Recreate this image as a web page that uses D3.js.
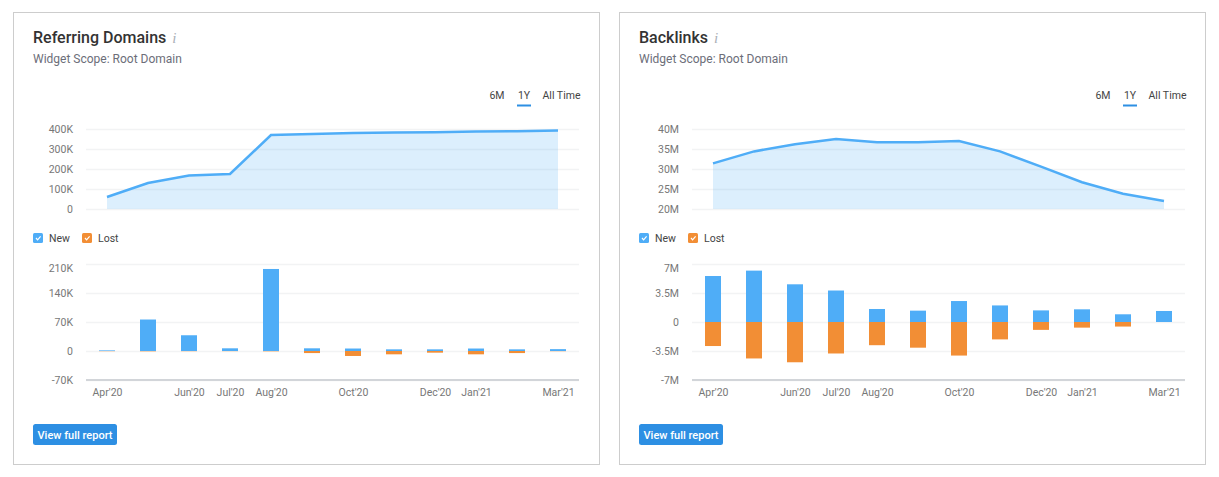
<!DOCTYPE html>
<html>
<head>
<meta charset="utf-8">
<script src="https://cdn.jsdelivr.net/npm/d3@7"></script>
<style>
  html, body { margin: 0; padding: 0; background: #fff; }
  svg { display: block; }
  text { font-family: Roboto, sans-serif; }
  .domain { display: none; }
</style>
</head>
<body>
<div id="chart"></div>
<script>
const months = ["Apr'20", "May'20", "Jun'20", "Jul'20", "Aug'20", "Sep'20", "Oct'20", "Nov'20", "Dec'20", "Jan'21", "Feb'21", "Mar'21"];
const shownMonths = ["Apr'20", "Jun'20", "Jul'20", "Aug'20", "Oct'20", "Dec'20", "Jan'21", "Mar'21"];
const rangeLabels = ["6M", "1Y", "All Time"];

// Referring Domains
const domainsTotal = [60000, 130000, 167000, 175000, 370000, 375000, 380000, 382000, 384000, 387000, 389000, 393000];
const domainsNew = [1500, 76000, 38000, 6500, 198000, 6500, 6000, 4000, 4000, 6000, 4000, 4500];
const domainsLost = [-500, -800, -500, -400, -800, -5000, -12000, -8000, -4000, -8000, -5000, -500];
const domainsTopTicks = [0, 100000, 200000, 300000, 400000];
const domainsBarTicks = [-70000, 0, 70000, 140000, 210000];

// Backlinks
const backlinksTotal = [31.4e6, 34.4e6, 36.2e6, 37.5e6, 36.7e6, 36.7e6, 37e6, 34.4e6, 30.6e6, 26.7e6, 23.8e6, 22e6];
const backlinksNew = [5.55e6, 6.2e6, 4.55e6, 3.8e6, 1.57e6, 1.37e6, 2.53e6, 2e6, 1.4e6, 1.53e6, 0.93e6, 1.33e6];
const backlinksLost = [-2.9e6, -4.4e6, -4.86e6, -3.8e6, -2.8e6, -3.1e6, -4.05e6, -2.1e6, -0.95e6, -0.68e6, -0.55e6, 0];
const backlinksTopTicks = [20e6, 25e6, 30e6, 35e6, 40e6];
const backlinksBarTicks = [-7e6, -3.5e6, 0, 3.5e6, 7e6];

const blue = "#4fadf7", orange = "#f28e35", accent = "#2d8fe3";

const svg = d3.select("#chart").append("svg")
    .attr("width", 1219)
    .attr("height", 477);

function fmt(v) {
    if (v === 0) return "0";
    if (Math.abs(v) >= 1e6) return (v / 1e6) + "M";
    return (v / 1e3) + "K";
}

function drawWidget(dx, w, title, total, gained, lost, topTicks, barTicks) {
    const g = svg.append("g").attr("transform", `translate(${dx},0)`);

    g.append("rect")
        .attr("x", 13.5).attr("y", 12.5)
        .attr("width", 586).attr("height", 452)
        .attr("fill", "#fff").attr("stroke", "#cdcdcd");

    const titleText = g.append("text")
        .attr("x", 33).attr("y", 43)
        .attr("font-size", 16).attr("font-weight", 500)
        .attr("fill", "#333")
        .text(title);
    g.append("text")
        .attr("x", 33 + titleText.node().getComputedTextLength() + 6).attr("y", 43)
        .style("font-family", "'Liberation Serif', serif")
        .attr("font-size", 15).attr("font-style", "italic")
        .attr("fill", "#aab0b8")
        .text("i");
    g.append("text")
        .attr("x", 33).attr("y", 63)
        .attr("font-size", 12).attr("fill", "#6c6e79")
        .text("Widget Scope: Root Domain");

    // period switch
    const rangeX = [497, 524, 561.5];
    g.selectAll(".range").data(rangeLabels).join("text")
        .attr("class", "range")
        .attr("x", (d, i) => rangeX[i]).attr("y", 98.5)
        .attr("text-anchor", "middle")
        .attr("font-size", 10.5).attr("fill", "#444")
        .text(d => d);
    g.append("rect")
        .attr("x", 517).attr("y", 104.5)
        .attr("width", 14).attr("height", 2)
        .attr("fill", accent);

    const x = d3.scalePoint().domain(months).range([107, 558]);

    // top area chart
    const yTop = d3.scaleLinear().domain(d3.extent(topTicks)).range([209, 129]);
    drawGrid(g, yTop, topTicks, w);

    const area = d3.area()
        .x((d, i) => x(months[i]))
        .y0(yTop(topTicks[0]))
        .y1(d => yTop(d));
    const line = d3.line()
        .x((d, i) => x(months[i]))
        .y(d => yTop(d));
    g.append("path").datum(total)
        .attr("d", area)
        .attr("fill", blue).attr("fill-opacity", 0.2);
    g.append("path").datum(total)
        .attr("d", line)
        .attr("fill", "none")
        .attr("stroke", blue).attr("stroke-width", 2.5);

    // legend
    const legend = [["New", blue, 33], ["Lost", orange, 82]];
    legend.forEach(([name, color, lx]) => {
        g.append("rect")
            .attr("x", lx).attr("y", 233)
            .attr("width", 10).attr("height", 10).attr("rx", 1.5)
            .attr("fill", color);
        g.append("path")
            .attr("d", `M${lx + 3},${238} l1.6,1.8 l3,-3.4`)
            .attr("fill", "none").attr("stroke", "#fff").attr("stroke-width", 1.2);
        g.append("text")
            .attr("x", lx + 16).attr("y", 241.5)
            .attr("font-size", 10.5).attr("fill", "#444")
            .text(name);
    });

    // bars
    const yBar = d3.scaleLinear().domain(d3.extent(barTicks)).range([380, 264]);
    drawGrid(g, yBar, barTicks, w);

    g.append("line")
        .attr("x1", 86).attr("x2", 86 + w)
        .attr("y1", yBar(barTicks[0])).attr("y2", yBar(barTicks[0]))
        .attr("stroke", "#d2d5d9").attr("stroke-width", 2);

    const barW = 16;
    g.selectAll(".new").data(gained).join("rect")
        .attr("class", "new")
        .attr("x", (d, i) => x(months[i]) - barW / 2)
        .attr("y", d => yBar(d))
        .attr("width", barW)
        .attr("height", d => yBar(0) - yBar(d))
        .attr("fill", blue);
    g.selectAll(".lost").data(lost).join("rect")
        .attr("class", "lost")
        .attr("x", (d, i) => x(months[i]) - barW / 2)
        .attr("y", yBar(0))
        .attr("width", barW)
        .attr("height", d => yBar(d) - yBar(0))
        .attr("fill", orange);

    const axisX = g.append("g")
        .attr("transform", "translate(0,380)")
        .call(d3.axisBottom(x).tickValues(shownMonths).tickSize(0).tickPadding(9));
    axisX.selectAll("text")
        .style("font-family", "Roboto, sans-serif")
        .attr("font-size", 10.5).attr("fill", "#777");

    // button
    g.append("rect")
        .attr("x", 33).attr("y", 424)
        .attr("width", 84).attr("height", 21).attr("rx", 2.5)
        .attr("fill", accent);
    g.append("text")
        .attr("x", 75).attr("y", 438.5)
        .attr("text-anchor", "middle")
        .attr("font-size", 11).attr("font-weight", 500).attr("fill", "#fff")
        .text("View full report");
}

function drawGrid(g, y, ticks, w) {
    const axis = g.append("g")
        .attr("transform", "translate(86,0)")
        .call(d3.axisLeft(y).tickValues(ticks).tickFormat(fmt).tickSize(-w).tickPadding(13));
    axis.selectAll("line").attr("stroke", "#f2f3f4").attr("stroke-width", 1.5);
    axis.selectAll("text")
        .style("font-family", "Roboto, sans-serif")
        .attr("font-size", 10.5).attr("fill", "#777");
    // top label of the bar chart sits below its gridline
    if (y.range()[1] === 264) {
        axis.selectAll("text").filter(d => d === d3.max(ticks)).attr("dy", "0.72em");
    }
}

drawWidget(0, 493, "Referring Domains", domainsTotal, domainsNew, domainsLost, domainsTopTicks, domainsBarTicks);
drawWidget(606, 493, "Backlinks", backlinksTotal, backlinksNew, backlinksLost, backlinksTopTicks, backlinksBarTicks);
</script>
</body>
</html>
